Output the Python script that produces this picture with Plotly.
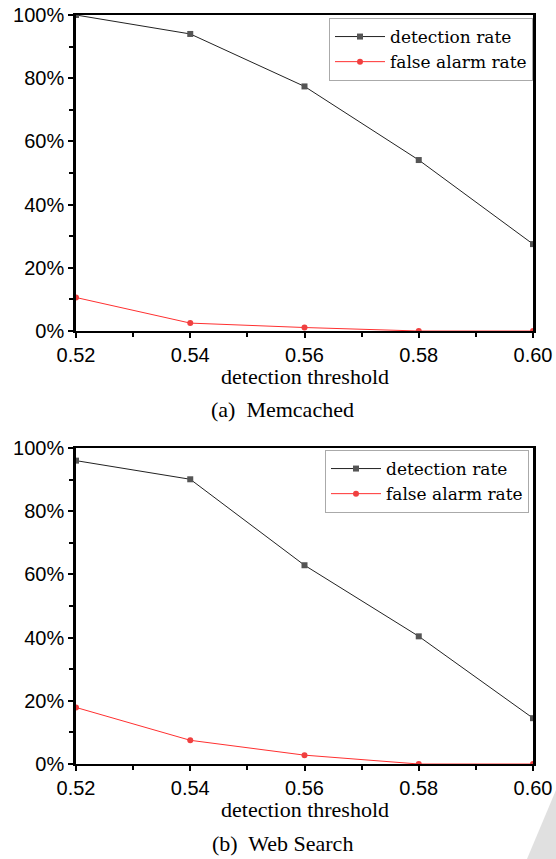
import plotly.graph_objects as go

thresholds = [0.52, 0.54, 0.56, 0.58, 0.60]
memcached_detection = [100.0, 94.0, 77.4, 54.1, 27.5]
memcached_false_alarm = [10.6, 2.5, 1.1, 0.0, 0.0]
websearch_detection = [96.0, 90.1, 62.9, 40.4, 14.5]
websearch_false_alarm = [17.9, 7.5, 2.8, 0.0, 0.0]
x_ticks = [0.52, 0.54, 0.56, 0.58, 0.60]
x_tick_labels = ["0.52", "0.54", "0.56", "0.58", "0.60"]
y_ticks = [0, 20, 40, 60, 80, 100]
y_tick_labels = ["0%", "20%", "40%", "60%", "80%", "100%"]
series_names = ["detection rate", "false alarm rate"]
captions = ["(a)  Memcached", "(b)  Web Search"]
axis_title = "detection threshold"

W, H = 556, 859
SANS = "Liberation Sans"
SERIF = "Liberation Serif"

fig = go.Figure()

panels = [
    (memcached_detection, memcached_false_alarm, "x", "y", "legend", (15, 331)),
    (websearch_detection, websearch_false_alarm, "x2", "y2", "legend2", (448, 764)),
]

for det, fa, xa, ya, lg, _ in panels:
    fig.add_trace(go.Scatter(
        x=thresholds, y=det, xaxis=xa, yaxis=ya, legend=lg,
        name=series_names[0], mode="lines+markers",
        line=dict(color="#222222", width=1),
        marker=dict(symbol="square", size=6, color="#555555"),
    ))
    fig.add_trace(go.Scatter(
        x=thresholds, y=fa, xaxis=xa, yaxis=ya, legend=lg,
        name=series_names[1], mode="lines+markers",
        line=dict(color="#ff3030", width=1),
        marker=dict(symbol="circle", size=6, color="#f04040"),
    ))

x0, x1 = 76 / W, 533 / W

def ydom(top, bottom):
    return [1 - bottom / H, 1 - top / H]

xaxis_common = dict(
    range=[0.52, 0.60], tickvals=x_ticks, ticktext=x_tick_labels,
    ticks="outside", ticklen=5, tickwidth=1.5, tickcolor="black",
    minor=dict(dtick=0.01, tick0=0.52, ticks="outside", ticklen=4, tickwidth=1.5, tickcolor="black"),
    showline=True, linecolor="black", linewidth=1.5, mirror=True,
    showgrid=False, zeroline=False, automargin=False,
    tickfont=dict(family=SANS, size=20, color="black"),
    domain=[x0, x1], fixedrange=True,
)
yaxis_common = dict(
    range=[0, 100], tickvals=y_ticks, ticktext=y_tick_labels,
    ticks="outside", ticklen=5, tickwidth=1.5, tickcolor="black",
    minor=dict(dtick=10, tick0=0, ticks="outside", ticklen=4, tickwidth=1.5, tickcolor="black"),
    showline=True, linecolor="black", linewidth=2.5, mirror=True,
    showgrid=False, zeroline=False, automargin=False,
    tickfont=dict(family=SANS, size=20, color="black"),
    fixedrange=True,
)

legend_common = dict(
    xanchor="right", yanchor="top",
    bgcolor="white", bordercolor="#aaaaaa", borderwidth=1,
    font=dict(family="DejaVu Serif", size=17, color="black"),
    tracegroupgap=0, itemwidth=50,
)

fig.update_layout(
    template="none",
    width=W, height=H,
    margin=dict(l=0, r=0, t=0, b=0, autoexpand=False),
    paper_bgcolor="white", plot_bgcolor="white",
    showlegend=True,
    xaxis=dict(**xaxis_common, anchor="y"),
    yaxis=dict(**yaxis_common, domain=ydom(*panels[0][5]), anchor="x"),
    xaxis2=dict(**xaxis_common, anchor="y2"),
    yaxis2=dict(**yaxis_common, domain=ydom(*panels[1][5]), anchor="x2"),
    legend=dict(x=533 / W, y=1 - 18 / H, **legend_common),
    legend2=dict(x=529 / W, y=1 - 450 / H, **legend_common),
)

# axis titles
for bottom in (331, 764):
    fig.add_annotation(
        text=axis_title, xref="paper", yref="paper",
        x=(x0 + x1) / 2, y=1 - (bottom + 45) / H,
        xanchor="center", yanchor="middle", showarrow=False,
        font=dict(family=SERIF, size=22, color="black"),
    )
# captions
for cap, cy in zip(captions, [409, 843]):
    fig.add_annotation(
        text=cap, xref="paper", yref="paper",
        x=282 / W, y=1 - cy / H,
        xanchor="center", yanchor="middle", showarrow=False,
        font=dict(family=SERIF, size=22, color="black"),
    )

# light gray corner artifact
fig.add_shape(
    type="path", xref="paper", yref="paper",
    path=f"M {527/W} 0 L 1 {1-790/H} L 1 0 Z",
    fillcolor="#e0e0e0", line=dict(width=0), layer="below",
)

fig.write_html(
    "out.html",
    config={"displayModeBar": False},
    post_script="document.body.style.margin='0';document.body.style.overflow='hidden';",
)
